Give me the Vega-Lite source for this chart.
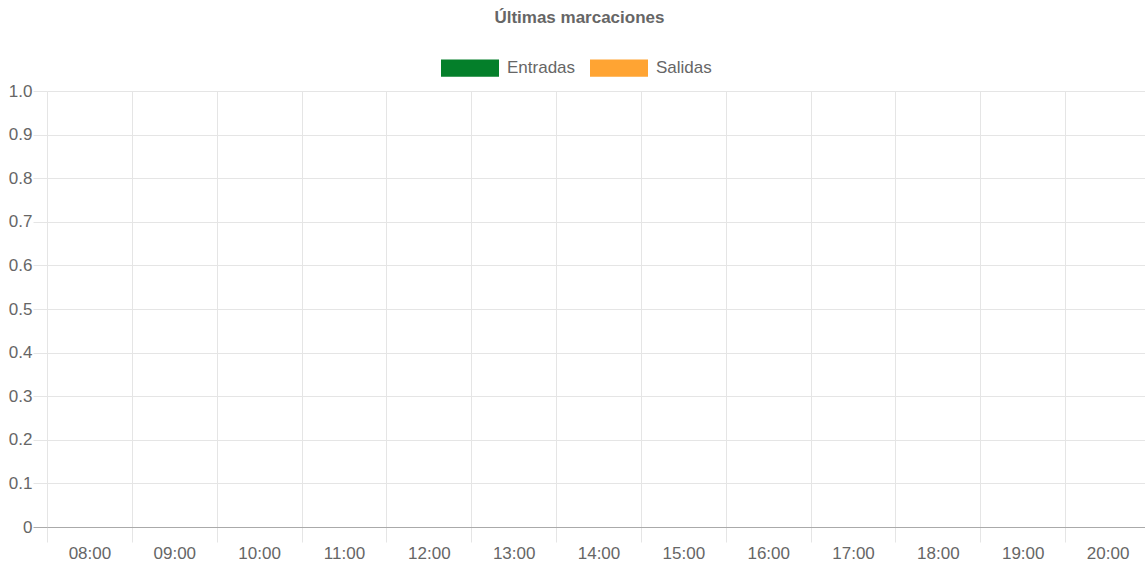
{
  "$schema": "https://vega.github.io/schema/vega-lite/v6.json",
  "width": 1098,
  "height": 436,
  "autosize": {"type": "none"},
  "padding": {"left": 47, "top": 91, "right": 0, "bottom": 38},
  "background": "white",
  "title": {
    "text": "Últimas marcaciones",
    "font": "Liberation Sans",
    "fontSize": 17,
    "fontWeight": "bold",
    "color": "#666666",
    "anchor": "middle",
    "frame": "bounds",
    "offset": 12
  },
  "config": {
    "view": {"stroke": null},
    "font": "Liberation Sans"
  },
  "data": {
    "values": [
      {"hora": "08:00", "tipo": "Entradas", "valor": 0},
      {"hora": "08:00", "tipo": "Salidas", "valor": 0},
      {"hora": "09:00", "tipo": "Entradas", "valor": 0},
      {"hora": "09:00", "tipo": "Salidas", "valor": 0},
      {"hora": "10:00", "tipo": "Entradas", "valor": 0},
      {"hora": "10:00", "tipo": "Salidas", "valor": 0},
      {"hora": "11:00", "tipo": "Entradas", "valor": 0},
      {"hora": "11:00", "tipo": "Salidas", "valor": 0},
      {"hora": "12:00", "tipo": "Entradas", "valor": 0},
      {"hora": "12:00", "tipo": "Salidas", "valor": 0},
      {"hora": "13:00", "tipo": "Entradas", "valor": 0},
      {"hora": "13:00", "tipo": "Salidas", "valor": 0},
      {"hora": "14:00", "tipo": "Entradas", "valor": 0},
      {"hora": "14:00", "tipo": "Salidas", "valor": 0},
      {"hora": "15:00", "tipo": "Entradas", "valor": 0},
      {"hora": "15:00", "tipo": "Salidas", "valor": 0},
      {"hora": "16:00", "tipo": "Entradas", "valor": 0},
      {"hora": "16:00", "tipo": "Salidas", "valor": 0},
      {"hora": "17:00", "tipo": "Entradas", "valor": 0},
      {"hora": "17:00", "tipo": "Salidas", "valor": 0},
      {"hora": "18:00", "tipo": "Entradas", "valor": 0},
      {"hora": "18:00", "tipo": "Salidas", "valor": 0},
      {"hora": "19:00", "tipo": "Entradas", "valor": 0},
      {"hora": "19:00", "tipo": "Salidas", "valor": 0},
      {"hora": "20:00", "tipo": "Entradas", "valor": 0},
      {"hora": "20:00", "tipo": "Salidas", "valor": 0}
    ]
  },
  "mark": {"type": "bar"},
  "encoding": {
    "x": {
      "field": "hora",
      "type": "ordinal",
      "scale": {"paddingInner": 0, "paddingOuter": 0, "range": [0, 1103]},
      "axis": {
        "title": null,
        "labelAngle": 0,
        "labelFont": "Liberation Sans",
        "labelFontSize": 17,
        "labelColor": "#666666",
        "labelPadding": 3,
        "tickBand": "extent",
        "tickSize": 15,
        "tickColor": "#e5e5e5",
        "grid": true,
        "gridColor": "#e5e5e5",
        "domain": true,
        "domainColor": "#aaaaaa"
      }
    },
    "xOffset": {"field": "tipo"},
    "y": {
      "field": "valor",
      "type": "quantitative",
      "scale": {"domain": [0, 1], "nice": false},
      "axis": {
        "title": null,
        "values": [0, 0.1, 0.2, 0.3, 0.4, 0.5, 0.6, 0.7, 0.8, 0.9, 1],
        "labelExpr": "datum.value == 0 ? '0' : format(datum.value, '.1f')",
        "labelFont": "Liberation Sans",
        "labelFontSize": 17,
        "labelColor": "#666666",
        "labelPadding": 1,
        "tickSize": 14,
        "tickColor": {"condition": {"test": "datum.value == 0", "value": "#aaaaaa"}, "value": "#e5e5e5"},
        "grid": true,
        "gridColor": {"condition": {"test": "datum.value == 0", "value": "#aaaaaa"}, "value": "#e5e5e5"},
        "domain": false
      }
    },
    "color": {
      "field": "tipo",
      "type": "nominal",
      "scale": {"domain": ["Entradas", "Salidas"], "range": ["#047f2a", "#ffa433"]},
      "legend": {
        "title": null,
        "orient": "none",
        "direction": "horizontal",
        "legendX": 394,
        "legendY": -52,
        "padding": 0,
        "symbolType": "M-1,-0.3H1V0.3H-1Z",
        "symbolSize": 3364,
        "symbolStrokeWidth": 0,
        "symbolOpacity": 1,
        "labelFont": "Liberation Sans",
        "labelFontSize": 17,
        "labelColor": "#666666",
        "labelOffset": 8,
        "columnPadding": 14
      }
    }
  }
}
